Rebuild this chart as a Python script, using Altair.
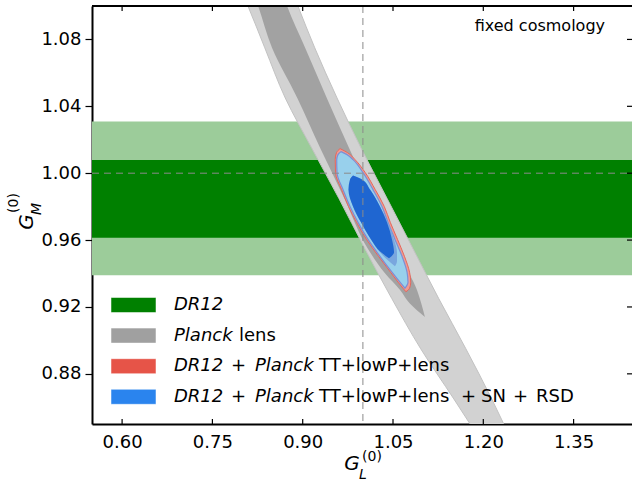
import altair as alt
import pandas as pd

# ---------------- data ----------------
x_domain = [0.55, 1.447]
y_domain = [0.85, 1.10]
x_ticks = [0.60, 0.75, 0.90, 1.05, 1.20, 1.35]
y_ticks = [0.88, 0.92, 0.96, 1.00, 1.04, 1.08]

# DR12 bands on G_M (2 sigma, 1 sigma)
dr12_lo = [0.9389, 0.9614]
dr12_hi = [1.0309, 1.0079]
dr12_colors = ["#9ccc9a", "#008000"]

# Planck lens, outer (95%) contour: left / right edges at given G_M
grey2_y = [1.11, 1.10, 1.075, 1.045, 1.015, 0.985, 0.955, 0.925, 0.895, 0.865, 0.85, 0.84]
grey2_left = [0.797, 0.809, 0.837, 0.871, 0.915, 0.960, 1.003, 1.048, 1.096, 1.151, 1.178, 1.196]
grey2_right = [0.881, 0.892, 0.920, 0.957, 0.997, 1.040, 1.083, 1.126, 1.171, 1.214, 1.234, 1.248]

# Planck lens, inner (68%) contour
grey1_y = [1.11, 1.10, 1.075, 1.045, 1.015, 0.985, 0.955, 0.940, 0.930, 0.922, 0.914]
grey1_left = [0.816, 0.826, 0.849, 0.891, 0.929, 0.969, 1.008, 1.037, 1.062, 1.078, 1.103]
grey1_right = [0.864, 0.874, 0.904, 0.940, 0.977, 1.015, 1.055, 1.077, 1.090, 1.097, 1.103]

# DR12 + Planck TT+lowP+lens, outer contour
red2_y = [1.0147, 1.0123, 1.0081, 1.0003, 0.9902, 0.9801, 0.9706, 0.9604, 0.9503, 0.9408, 0.9348, 0.9312, 0.9291]
red2_left = [0.9620, 0.9561, 0.9540, 0.9545, 0.9645, 0.9761, 0.9894, 1.0060, 1.0259, 1.0458, 1.0585, 1.0665, 1.0715]
red2_right = [0.9620, 0.9745, 0.9870, 1.0040, 1.0205, 1.0355, 1.0455, 1.0575, 1.0690, 1.0775, 1.0795, 1.0775, 1.0715]

# DR12 + Planck TT+lowP+lens, inner contour (seen through the blue one)
red1_y = [0.9986, 0.9962, 0.9902, 0.9801, 0.9706, 0.9604, 0.9527, 0.9473, 0.9443]
red1_left = [0.9836, 0.9786, 0.9761, 0.9836, 0.9968, 1.0135, 1.0284, 1.0434, 1.0533]
red1_right = [0.9836, 0.9985, 1.0118, 1.0284, 1.0417, 1.0517, 1.0566, 1.0566, 1.0533]

# DR12 + Planck TT+lowP+lens + SN + RSD, outer contour
blue2_y = [1.0129, 1.0111, 1.0081, 1.0003, 0.9902, 0.9801, 0.9706, 0.9604, 0.9503, 0.9408, 0.9348, 0.9312]
blue2_left = [0.9636, 0.9586, 0.9565, 0.9570, 0.9669, 0.9786, 0.9919, 1.0085, 1.0284, 1.0483, 1.0616, 1.0699]
blue2_right = [0.9636, 0.9736, 0.9836, 1.0002, 1.0168, 1.0317, 1.0417, 1.0533, 1.0650, 1.0733, 1.0749, 1.0699]

# ... inner contour
blue1_y = [0.9986, 0.9962, 0.9902, 0.9801, 0.9706, 0.9604, 0.9527, 0.9491]
blue1_left = [0.9836, 0.9786, 0.9761, 0.9836, 0.9968, 1.0135, 1.0301, 1.0434]
blue1_right = [0.9836, 0.9985, 1.0118, 1.0284, 1.0400, 1.0483, 1.0517, 1.0434]

ref_x = [1.0]
ref_y = [1.0]

legend_labels = ["DR12", "Planck lens", "DR12 + Planck TT+lowP+lens",
                 "DR12 + Planck TT+lowP+lens + SN + RSD"]
legend_colors = ["#008000", "#a0a0a0", "#e65448", "#2a84ee"]

# ---------------- layout ----------------
W, H = 540, 418
FONT = "DejaVu Sans"

xs = alt.Scale(domain=x_domain, nice=False, zero=False)
ys = alt.Scale(domain=y_domain, nice=False, zero=False)

x_axis = alt.Axis(values=x_ticks, format=".2f", title=None, grid=False,
                  domainColor="black", domainWidth=2, ticks=False, tickSize=0,
                  labelPadding=9, labelFontSize=18, labelFont=FONT, labelColor="black")
y_axis = alt.Axis(values=y_ticks, format=".2f", title=None, grid=False,
                  domainColor="black", domainWidth=2, tickColor="black",
                  tickWidth=1.2, tickSize=7, labelPadding=4,
                  labelFontSize=18, labelFont=FONT, labelColor="black")


def X(f):
    return alt.X(f, scale=xs, axis=x_axis)


def Y(f):
    return alt.Y(f, scale=ys, axis=y_axis)


def contour(yv, lv, rv, fill, stroke=None, sw=0):
    df = pd.DataFrame({"gm": yv, "l": lv, "r": rv}).sort_values("gm")
    kw = dict(orient="horizontal", interpolate="monotone", clip=True, fill=fill, opacity=1)
    if stroke:
        kw.update(stroke=stroke, strokeWidth=sw)
    return alt.Chart(df).mark_area(**kw).encode(y=Y("gm:Q"), x=X("l:Q"), x2="r:Q")


bands = pd.DataFrame({"lo": dr12_lo, "hi": dr12_hi, "c": dr12_colors, "o": [0, 1]})
band_layer = alt.Chart(bands).mark_rect(clip=True).encode(
    y=Y("lo:Q"), y2="hi:Q",
    x=alt.value(0), x2=alt.value(W),
    color=alt.Color("c:N", scale=None),
    order="o:Q",
)

bottom_ticks = alt.Chart(pd.DataFrame({"t": x_ticks})).mark_rule(color="black", strokeWidth=1.2).encode(
    x=X("t:Q"), y=alt.value(H - 5), y2=alt.value(H))
top_ticks = alt.Chart(pd.DataFrame({"t": x_ticks})).mark_rule(color="black", strokeWidth=1.2).encode(
    x=X("t:Q"), y=alt.value(0), y2=alt.value(5))
right_ticks = alt.Chart(pd.DataFrame({"t": y_ticks})).mark_rule(color="black", strokeWidth=1.2).encode(
    y=Y("t:Q"), x=alt.value(W - 5), x2=alt.value(W))
top_spine = alt.Chart(pd.DataFrame({"a": [0]})).mark_rule(color="black", strokeWidth=2).encode(
    y=alt.value(0), x=alt.value(0), x2=alt.value(W))

vline = alt.Chart(pd.DataFrame({"v": ref_x})).mark_rule(
    color="#8a8a8a", strokeWidth=1, strokeDash=[7, 5]).encode(
    x=X("v:Q"), y=alt.value(0), y2=alt.value(H))
hline = alt.Chart(pd.DataFrame({"v": ref_y})).mark_rule(
    color="#8a8a8a", strokeWidth=1, strokeDash=[7, 5]).encode(
    y=Y("v:Q"), x=alt.value(0), x2=alt.value(W))

# ---------------- legend (manual, mixed italic text) ----------------
row_y = [299 + 30.6 * i for i in range(4)]
swatch_layers = []
for c, ry in zip(legend_colors, row_y):
    swatch_layers.append(
        alt.Chart(pd.DataFrame({"c": [c]})).mark_rect(
            fill=c, stroke="white", strokeOpacity=0.5, strokeWidth=1).encode(
            x=alt.value(19), x2=alt.value(64), y=alt.value(ry - 7.5), y2=alt.value(ry + 7.5)))

# text pieces: (text, italic, x, y, size, angle, align)
pieces = []
pieces.append(("DR12", True, 82, row_y[0], 18, 0, "left"))
pieces.append(("Planck", True, 82, row_y[1], 18, 0, "left"))
pieces.append(("lens", False, 147, row_y[1], 18, 0, "left"))
for r in (2, 3):
    pieces.append(("DR12", True, 82, row_y[r], 18, 0, "left"))
    pieces.append(("+", False, 139, row_y[r], 18, 0, "left"))
    pieces.append(("Planck", True, 163, row_y[r], 18, 0, "left"))
    pieces.append(("TT+lowP+lens", False, 227, row_y[r], 18, 0, "left"))
pieces.append(("+", False, 369, row_y[3], 18, 0, "left"))
pieces.append(("SN", False, 389, row_y[3], 18, 0, "left"))
pieces.append(("+", False, 421, row_y[3], 18, 0, "left"))
pieces.append(("RSD", False, 444, row_y[3], 18, 0, "left"))
pieces.append(("fixed cosmology", False, 513, 20, 16, 0, "right"))
pieces.append(("G", True, 260, 458, 20, 0, "center"))
pieces.append(("L", True, 271, 469, 14, 0, "center"))
pieces.append(("(0)", False, 280, 451, 14, 0, "center"))
pieces.append(("G", True, -65, 216, 20, 270, "center"))
pieces.append(("M", True, -55, 203, 14, 270, "center"))
pieces.append(("(0)", False, -78, 197, 14, 270, "center"))

text_layers = []
for (t, it, px, py, s, a, al) in pieces:
    text_layers.append(
        alt.Chart(pd.DataFrame({"t": [t]})).mark_text(
            font=FONT, fontStyle="italic" if it else "normal", align=al,
            baseline="middle", color="black", fontSize=s, angle=a).encode(
            x=alt.value(px), y=alt.value(py), text="t:N"))

chart = alt.layer(
    band_layer,
    contour(grey2_y, grey2_left, grey2_right, "#d2d2d2", "#c2c2c2", 1),
    contour(grey1_y, grey1_left, grey1_right, "#a2a2a2"),
    contour(red2_y, red2_left, red2_right, "#f09a90", "#e4675d", 1),
    contour(blue2_y, blue2_left, blue2_right, "#98d0ec", "#7b8fd6", 1.2),
    contour(red1_y, red1_left, red1_right, "#79a6de"),
    contour(blue1_y, blue1_left, blue1_right, "#1f66d1"),
    vline, hline,
    bottom_ticks, top_ticks, right_ticks, top_spine,
    *swatch_layers, *text_layers,
).properties(
    width=W, height=H,
    padding={"left": 92, "top": 6, "right": 0, "bottom": 61},
    autosize=alt.AutoSizeParams(type="none"),
).configure_view(stroke=None).configure(font=FONT, background="white")

chart.save("out.html", embed_options={"renderer": "svg", "actions": False})
